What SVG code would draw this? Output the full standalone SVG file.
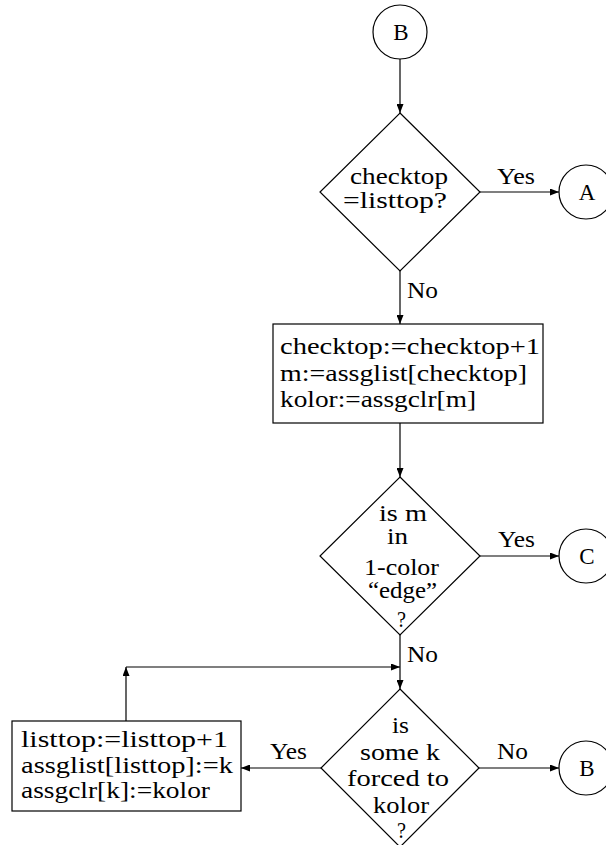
<svg xmlns="http://www.w3.org/2000/svg" width="606" height="845" viewBox="0 0 606 845">
<style>
.s{fill:#fff;stroke:#000;stroke-width:1.2}
.c{fill:none;stroke:#000;stroke-width:1.2}
text{font-family:"Liberation Serif","Times New Roman",serif;font-size:23px;fill:#000}
.m{text-anchor:middle}
</style>
<defs>
<marker id="ah" markerWidth="9" markerHeight="7" refX="9" refY="3.5" orient="auto" markerUnits="userSpaceOnUse">
<path d="M0,0 L9,3.5 L0,7 z" fill="#000"/>
</marker>
</defs>
<rect width="606" height="845" fill="#fff"/>
<g id="connectors" class="c" marker-end="url(#ah)">
<line x1="400" y1="59" x2="400" y2="113"/>
<line x1="480" y1="192" x2="559" y2="192"/>
<line x1="400" y1="271" x2="400" y2="324"/>
<line x1="400" y1="423" x2="400" y2="477"/>
<line x1="480" y1="556" x2="559" y2="556"/>
<line x1="400" y1="635" x2="400" y2="689"/>
<line x1="479" y1="768" x2="559" y2="768"/>
<line x1="321" y1="768" x2="241" y2="768"/>
<line x1="126" y1="721" x2="126" y2="667"/>
<line x1="126" y1="667" x2="400" y2="667"/>
</g>
<g id="labels">
<text x="497" y="184" textLength="38" lengthAdjust="spacingAndGlyphs">Yes</text>
<text x="407" y="298" textLength="31" lengthAdjust="spacingAndGlyphs">No</text>
<text x="498" y="547" textLength="37" lengthAdjust="spacingAndGlyphs">Yes</text>
<text x="407" y="662" textLength="31" lengthAdjust="spacingAndGlyphs">No</text>
<text x="270" y="759" textLength="37" lengthAdjust="spacingAndGlyphs">Yes</text>
<text x="497" y="759" textLength="31" lengthAdjust="spacingAndGlyphs">No</text>
</g>
<g id="startB">
<circle class="s" cx="400" cy="32" r="27"/>
<text class="m" x="401" y="40">B</text>
</g>
<g id="d1">
<polygon class="s" points="400,113 480,192 400,271 320,192"/>
<text x="350" y="184" textLength="98" lengthAdjust="spacingAndGlyphs">checktop</text>
<text x="343" y="208" textLength="104" lengthAdjust="spacingAndGlyphs">=listtop?</text>
</g>
<g id="connA">
<circle class="s" cx="586" cy="192" r="27"/>
<text class="m" x="587" y="200">A</text>
</g>
<g id="box1">
<rect class="s" x="273" y="324" width="270" height="99"/>
<text x="280" y="354" textLength="260" lengthAdjust="spacingAndGlyphs">checktop:=checktop+1</text>
<text x="280" y="381" textLength="247" lengthAdjust="spacingAndGlyphs">m:=assglist[checktop]</text>
<text x="280" y="407" textLength="196" lengthAdjust="spacingAndGlyphs">kolor:=assgclr[m]</text>
</g>
<g id="d2">
<polygon class="s" points="400,477 480,556 400,635 320,556"/>
<text x="379" y="521" textLength="48" lengthAdjust="spacingAndGlyphs">is m</text>
<text x="387" y="544" textLength="21" lengthAdjust="spacingAndGlyphs">in</text>
<text x="364" y="575" textLength="75" lengthAdjust="spacingAndGlyphs">1-color</text>
<text x="368" y="598" textLength="69" lengthAdjust="spacingAndGlyphs">“edge”</text>
<text x="397" y="627" textLength="9" lengthAdjust="spacingAndGlyphs">?</text>
</g>
<g id="connC">
<circle class="s" cx="586" cy="556" r="27"/>
<text class="m" x="587" y="564">C</text>
</g>
<g id="d3">
<polygon class="s" points="400,689 479,768 400,847 321,768"/>
<text x="392" y="733" textLength="17" lengthAdjust="spacingAndGlyphs">is</text>
<text x="360" y="760" textLength="80" lengthAdjust="spacingAndGlyphs">some k</text>
<text x="347" y="786" textLength="102" lengthAdjust="spacingAndGlyphs">forced to</text>
<text x="373" y="813" textLength="56" lengthAdjust="spacingAndGlyphs">kolor</text>
<text x="397" y="838" textLength="9" lengthAdjust="spacingAndGlyphs">?</text>
</g>
<g id="connB">
<circle class="s" cx="586" cy="768" r="27"/>
<text class="m" x="587" y="776">B</text>
</g>
<g id="box2">
<rect class="s" x="12" y="721" width="229" height="90"/>
<text x="21" y="747" textLength="207" lengthAdjust="spacingAndGlyphs">listtop:=listtop+1</text>
<text x="21" y="773" textLength="212" lengthAdjust="spacingAndGlyphs">assglist[listtop]:=k</text>
<text x="21" y="798" textLength="189" lengthAdjust="spacingAndGlyphs">assgclr[k]:=kolor</text>
</g>
</svg>
